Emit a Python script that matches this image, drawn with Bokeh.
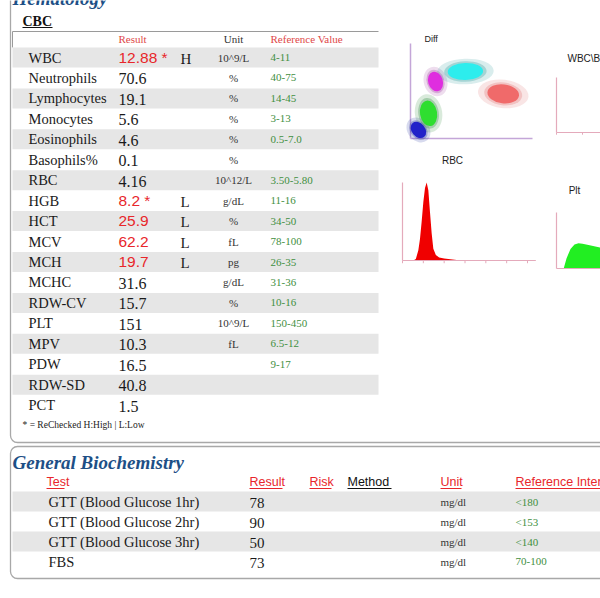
from bokeh.plotting import figure
from bokeh.models import Range1d
from bokeh.embed import file_html
from bokeh.resources import INLINE
from bokeh.core.properties import value

# ---------------- data ----------------
cbc_tests = ["WBC", "Neutrophils", "Lymphocytes", "Monocytes", "Eosinophils", "Basophils%",
             "RBC", "HGB", "HCT", "MCV", "MCH", "MCHC", "RDW-CV", "PLT", "MPV", "PDW",
             "RDW-SD", "PCT"]
cbc_results = ["12.88 *", "70.6", "19.1", "5.6", "4.6", "0.1", "4.16", "8.2 *", "25.9",
               "62.2", "19.7", "31.6", "15.7", "151", "10.3", "16.5", "40.8", "1.5"]
cbc_flags = ["H", "", "", "", "", "", "", "L", "L", "L", "L", "", "", "", "", "", "", ""]
cbc_units = ["10^9/L", "%", "%", "%", "%", "%", "10^12/L", "g/dL", "%", "fL", "pg", "g/dL",
             "%", "10^9/L", "fL", "", "", ""]
cbc_refs = ["4-11", "40-75", "14-45", "3-13", "0.5-7.0", "", "3.50-5.80", "11-16", "34-50",
            "78-100", "26-35", "31-36", "10-16", "150-450", "6.5-12", "9-17", "", ""]

bio_tests = ["GTT (Blood Glucose 1hr)", "GTT (Blood Glucose 2hr)",
             "GTT (Blood Glucose 3hr)", "FBS"]
bio_results = ["78", "90", "50", "73"]
bio_units = ["mg/dl", "mg/dl", "mg/dl", "mg/dl"]
bio_refs = ["<180", "<153", "<140", "70-100"]
bio_headers = ["Test", "Result", "Risk", "Method", "Unit", "Reference Interval"]

# Diff scatter clusters (channel units 0-100)
diff_cx = [6.5, 14.8, 20.5, 45.0, 76.0]
diff_cy = [9.0, 26.5, 60.0, 70.5, 47.0]
diff_w = [11.0, 14.0, 12.0, 29.0, 26.0]
diff_h = [19.0, 27.0, 21.0, 18.0, 20.0]
diff_angle = [0.7, 0.15, 0.3, 0.03, -0.12]
diff_core = ["#1414c8", "#22e022", "#e020e0", "#20f0f0", "#f06060"]
diff_halo = ["#2030a0", "#2a8a3a", "#a040a0", "#2a9a9a", "#e07070"]

# RBC histogram (fL vs relative count)
rbc_x = [26, 32, 38, 42, 46, 50, 54, 58, 62, 66, 70, 74, 80, 88, 100, 115, 130, 134]
rbc_y = [0, 2, 13, 28, 50, 75, 93, 100, 90, 62, 35, 15, 7, 4, 2.5, 1.5, 0.8, 0]
rbc_ticks = [0, 50, 100, 150, 200, 250, 300]

# PLT histogram
plt_x = [1.8, 2.5, 3.5, 4.5, 5.5, 6.5, 8, 10, 12, 15, 20, 25, 30]
plt_y = [0, 18, 35, 43, 45, 44, 42, 39, 36, 30, 18, 8, 0]

wbc_ticks = [0, 50, 100, 150, 200]

# ---------------- figure (reference pixel coordinates) ----------------
W, H = 600, 598
X0, Y0 = 0, 0
p = figure(width=W, height=H, x_range=Range1d(X0, X0 + W), y_range=Range1d(Y0 + H, Y0),
           output_backend="svg", toolbar_location=None, min_border=0,
           x_axis_location=None, y_axis_location=None, outline_line_color=None,
           background_fill_color="white", border_fill_color="white")
p.grid.visible = False

SERIF = value("Liberation Serif")
SANS = value("Liberation Sans")

xr, yr = {}, {}


def xmap(name, d0, d1, px0, px1):
    k = (px1 - px0) / (d1 - d0)
    s = d0 - (px0 - X0) / k
    xr[name] = Range1d(s, s + W / k)


def ymap(name, d0, d1, pbase, ptop):
    k = (pbase - ptop) / (d1 - d0)
    s = d0 - (Y0 + H - pbase) / k
    yr[name] = Range1d(s, s + H / k)


xmap("diffx", 0, 100, 410, 532); ymap("diffy", 0, 100, 138, 43)
xmap("rbcx", 0, 300, 402, 527); ymap("rbcy", 0, 100, 260, 182)
xmap("pltx", 0, 40, 556, 716); ymap("plty", 0, 100, 268, 212)
xmap("wbcx", 0, 200, 556, 660); ymap("wbcy", 0, 100, 132, 77)
p.extra_x_ranges = xr
p.extra_y_ranges = yr

# ---------------- panels ----------------
p.quad(left=[10], right=[640], top=[-20], bottom=[442], fill_color=None,
       line_color="#a8a8a8", line_width=1.3, border_radius=7)
p.quad(left=[10], right=[640], top=[446], bottom=[578], fill_color=None,
       line_color="#a8a8a8", line_width=1.3, border_radius=7)

# ---------------- Hematology ----------------
p.text(x=[12], y=[-2], text=["Hematology"], text_font=SERIF, text_font_style="bold italic",
       text_font_size="19px", text_color="#1d4f86", text_baseline="alphabetic")
p.text(x=[22], y=[20.5], text=["CBC"], text_font=SERIF, text_font_style="bold",
       text_font_size="14px", text_color="#111111", text_baseline="middle")
p.segment(x0=[22], y0=[27], x1=[52], y1=[27], line_color="#111111", line_width=1)

# header border
p.segment(x0=[12, 12], y0=[31, 31], x1=[378, 12], y1=[31, 47], line_color="#9a9a9a", line_width=1)
p.text(x=[118, 270], y=[38, 38], text=["Result", "Reference Value"], text_font=SERIF,
       text_font_size="11px", text_color="#e04848", text_baseline="middle")
p.text(x=[233], y=[38], text=["Unit"], text_font=SERIF, text_font_size="11px",
       text_color="#333333", text_baseline="middle", text_align="center")

n = len(cbc_tests)
row_y = [57 + i * 20.45 for i in range(n)]
band_i = [i for i in range(n) if i % 2 == 0]
p.quad(left=[12] * len(band_i), right=[378] * len(band_i),
       top=[row_y[i] - 10 for i in band_i], bottom=[row_y[i] + 10 for i in band_i],
       fill_color="#e6e6e6", line_color=None)

p.text(x=[28] * n, y=row_y, text=cbc_tests, text_font=SERIF, text_font_size="14.5px",
       text_color="#1a1a1a", text_baseline="middle")

norm = [i for i in range(n) if not cbc_flags[i]]
abn = [i for i in range(n) if cbc_flags[i]]
p.text(x=[118] * len(norm), y=[row_y[i] + 1 for i in norm], text=[cbc_results[i] for i in norm],
       text_font=SERIF, text_font_size="16px", text_color="#1a1a1a", text_baseline="middle")
p.text(x=[118] * len(abn), y=[row_y[i] for i in abn], text=[cbc_results[i] for i in abn],
       text_font=SANS, text_font_size="15.5px", text_color="#e8262b", text_baseline="middle")
p.text(x=[180] * len(abn), y=[row_y[i] + 1 for i in abn], text=[cbc_flags[i] for i in abn],
       text_font=SERIF, text_font_size="15px", text_color="#1a1a1a", text_baseline="middle")
p.text(x=[233] * n, y=row_y, text=cbc_units, text_font=SERIF, text_font_size="11px",
       text_color="#333333", text_baseline="middle", text_align="center")
p.text(x=[270] * n, y=row_y, text=cbc_refs, text_font=SERIF, text_font_size="11px",
       text_color="#3f8f3f", text_baseline="middle")

p.text(x=[22], y=[424], text=["* = ReChecked H:High  |  L:Low"], text_font=SERIF,
       text_font_size="9.5px", text_color="#222222", text_baseline="middle")

# ---------------- Diff scatter ----------------
dk = dict(x_range_name="diffx", y_range_name="diffy")
p.segment(x0=[0, 0], y0=[0, 0], x1=[0, 100], y1=[100, 0], line_color="#c4a6d8",
          line_width=1.5, **dk)
p.ellipse(x=diff_cx, y=diff_cy, width=[w * 1.6 for w in diff_w],
          height=[h * 1.5 for h in diff_h], angle=diff_angle,
          fill_color=diff_halo, fill_alpha=0.18, line_color=None, **dk)
p.ellipse(x=diff_cx, y=diff_cy, width=[w * 1.2 for w in diff_w],
          height=[h * 1.2 for h in diff_h], angle=diff_angle,
          fill_color=diff_halo, fill_alpha=0.3, line_color=None, **dk)
p.ellipse(x=diff_cx, y=diff_cy, width=diff_w, height=diff_h, angle=diff_angle,
          fill_color=diff_core, fill_alpha=0.9, line_color=None, **dk)
p.text(x=[424], y=[38], text=["Diff"], text_font=SANS, text_font_size="9px",
       text_color="#222222", text_baseline="middle")

# ---------------- RBC histogram ----------------
rk = dict(x_range_name="rbcx", y_range_name="rbcy")
p.varea(x=rbc_x, y1=[0] * len(rbc_x), y2=rbc_y, fill_color="#f00000", **rk)
p.segment(x0=[0, 0], y0=[0, 0], x1=[0, 320], y1=[100, 0], line_color="#e4aabb",
          line_width=1.2, **rk)
p.segment(x0=rbc_ticks, y0=[0] * len(rbc_ticks), x1=rbc_ticks, y1=[-3.5] * len(rbc_ticks),
          line_color="#e4aabb", line_width=1, **rk)
p.text(x=[452], y=[160], text=["RBC"], text_font=SANS, text_font_size="10px",
       text_color="#222222", text_baseline="middle", text_align="center")

# ---------------- WBC\BASO ----------------
wk = dict(x_range_name="wbcx", y_range_name="wbcy")
p.segment(x0=[0, 0], y0=[0, 0], x1=[0, 200], y1=[100, 0], line_color="#e4aabb",
          line_width=1.2, **wk)
p.segment(x0=wbc_ticks, y0=[0] * len(wbc_ticks), x1=wbc_ticks, y1=[-4] * len(wbc_ticks),
          line_color="#e4aabb", line_width=1, **wk)
p.text(x=[567], y=[58], text=["WBC\\BASO"], text_font=SANS, text_font_size="10px",
       text_color="#222222", text_baseline="middle")

# ---------------- PLT histogram ----------------
pk = dict(x_range_name="pltx", y_range_name="plty")
p.varea(x=plt_x, y1=[0] * len(plt_x), y2=plt_y, fill_color="#22ee22", **pk)
p.segment(x0=[0, 0], y0=[0, 0], x1=[0, 40], y1=[100, 0], line_color="#e4aabb",
          line_width=1.2, **pk)
p.text(x=[574], y=[190], text=["Plt"], text_font=SANS, text_font_size="10px",
       text_color="#222222", text_baseline="middle", text_align="center")

# ---------------- General Biochemistry ----------------
p.text(x=[12], y=[462], text=["General Biochemistry"], text_font=SERIF,
       text_font_style="bold italic", text_font_size="19px", text_color="#1d4f86",
       text_baseline="alphabetic")
hx = [46, 249, 309, 347, 440, 515]
hcol = ["#e8262b", "#e8262b", "#e8262b", "#111111", "#e8262b", "#e8262b"]
hend = [64, 282, 331, 391, 461, 640]
p.text(x=hx, y=[481] * 6, text=bio_headers, text_font=SANS, text_font_size="12.5px",
       text_color=hcol, text_baseline="middle")
p.segment(x0=hx, y0=[488] * 6, x1=hend, y1=[488] * 6, line_color=hcol, line_width=1)

m = len(bio_tests)
bio_y = [501 + i * 20 for i in range(m)]
bb = [i for i in range(m) if i % 2 == 0]
p.quad(left=[12] * len(bb), right=[640] * len(bb), top=[bio_y[i] - 10 for i in bb],
       bottom=[bio_y[i] + 10 for i in bb], fill_color="#e6e6e6", line_color=None)
p.text(x=[48] * m, y=bio_y, text=bio_tests, text_font=SERIF, text_font_size="14.5px",
       text_color="#1a1a1a", text_baseline="middle")
p.text(x=[249] * m, y=[y + 1 for y in bio_y], text=bio_results, text_font=SERIF,
       text_font_size="15px", text_color="#1a1a1a", text_baseline="middle")
p.text(x=[440] * m, y=bio_y, text=bio_units, text_font=SERIF, text_font_size="11px",
       text_color="#333333", text_baseline="middle")
p.text(x=[515] * m, y=bio_y, text=bio_refs, text_font=SERIF, text_font_size="11px",
       text_color="#3f8f3f", text_baseline="middle")

open("out.html", "w").write(file_html(p, INLINE))
